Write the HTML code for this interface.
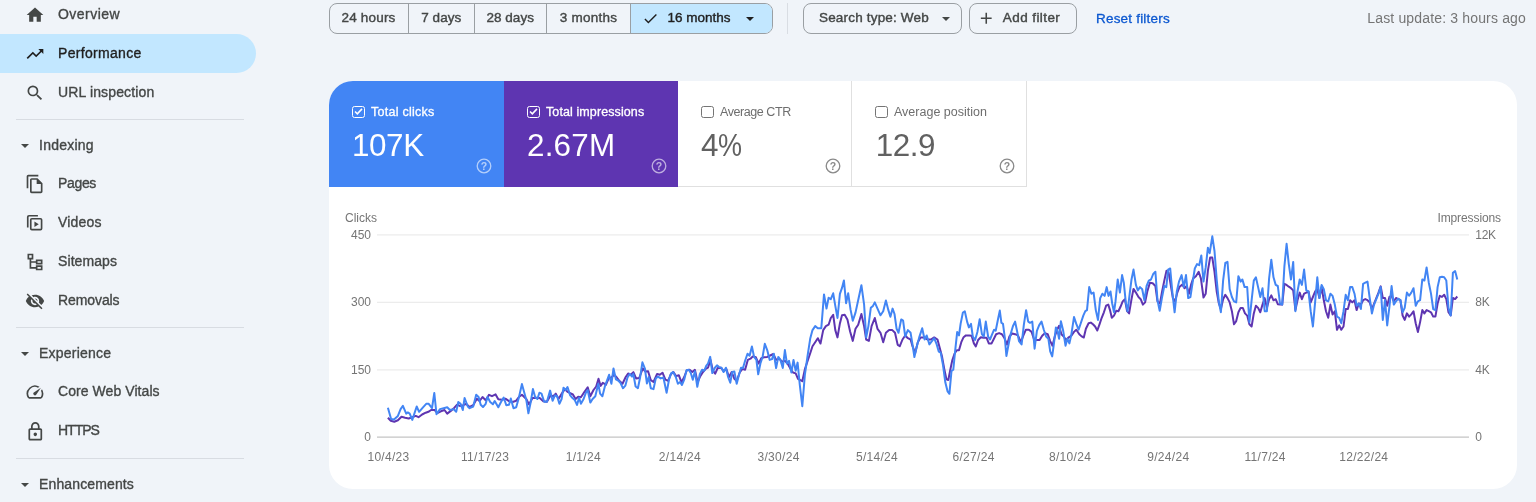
<!DOCTYPE html>
<html lang="en">
<head>
<meta charset="utf-8">
<title>Performance</title>
<style>
*{box-sizing:border-box;margin:0;padding:0}
html,body{width:1536px;height:502px;overflow:hidden;background:#f0f4f9;font-family:"Liberation Sans",sans-serif;color:#1f1f1f}
body{position:relative}
.abs{position:absolute}
/* sidebar */
.nav{position:absolute;left:0;top:0;width:270px;height:502px}
.item{position:absolute;left:0;width:256px;height:39px;border-radius:0 20px 20px 0;font-size:14px;color:#444746;-webkit-text-stroke:.35px #444746}
.item.sel{background:#c2e7ff;color:#1f1f1f;-webkit-text-stroke:.35px #1f1f1f}
.item .ic{position:absolute;left:25px;top:10px;width:20px;height:20px}
.item .tx{position:absolute;left:58px;top:0;line-height:39px;white-space:nowrap}
.sec{position:absolute;left:0;width:256px;height:39px;font-size:14px;color:#444746;-webkit-text-stroke:.35px #444746}
.sec .tx{position:absolute;left:39px;top:0;line-height:39px}
.sec .car{position:absolute;left:21px;top:18px;width:0;height:0;border-left:4px solid transparent;border-right:4px solid transparent;border-top:4.5px solid #444746}
.div{position:absolute;left:15.500px;width:228px;height:1.300px;background:#d8dce2}
/* toolbar */
.seg{position:absolute;top:3px;height:30.5px;border:1px solid #9a9fa3;border-radius:8px;font-size:13.5px;color:#444746;-webkit-text-stroke:.4px #444746;overflow:hidden}
.seg .c{position:absolute;top:0;height:100%;border-right:1px solid #9a9fa3;line-height:28px;text-align:center;white-space:nowrap}
.btn{position:absolute;top:3px;height:30.5px;border:1px solid #9a9fa3;border-radius:8px;font-size:13.5px;color:#444746;-webkit-text-stroke:.4px #444746;line-height:28px;white-space:nowrap}
/* card */
.card{position:absolute;left:329px;top:80.500px;width:1187.500px;height:408.500px;background:#fff;border-radius:24px;overflow:hidden}
.tile{position:absolute;top:0;height:106.5px}
.tile .cb{position:absolute;left:23.3px;top:25.2px;width:12.8px;height:12.6px;border:1.5px solid #757575;border-radius:2.5px}
.tile .cb svg{position:absolute;left:-1.5px;top:-1.5px;width:12.8px;height:12.6px}
.tile .lb{position:absolute;left:42px;top:23.500px;font-size:12.500px;line-height:17px;white-space:nowrap;color:#6e6e6e}
.tile .num{position:absolute;left:23px;top:47px;font-size:31.400px;line-height:36px;white-space:nowrap;color:#616161;letter-spacing:-.4px}
.tile .hp{position:absolute;left:146.600px;top:77.600px;width:16px;height:16px;overflow:visible}
.tile.on .lb,.tile.on .num{color:#fff}
.tile.on .lb{-webkit-text-stroke:.3px #fff}
.tile.on .cb{border-color:#fff}
.tile.off{border-right:1px solid #e0e0e0;border-bottom:1px solid #e0e0e0}
svg text{font-family:"Liberation Sans",sans-serif}
</style>
</head>
<body>
<div class="nav">
  <div class="item" style="top:-5px"><svg class="ic" viewBox="0 0 24 24"><path fill="#444746" d="M10 20v-6h4v6h5v-8h3L12 3 2 12h3v8z"/></svg><span class="tx" style="letter-spacing:0.46px">Overview</span></div>
  <div class="item sel" style="top:34px"><svg class="ic" viewBox="0 0 24 24"><path fill="#1f1f1f" d="M16 6l2.29 2.29-4.88 4.88-4-4L2 16.59 3.410 18l6-6 4 4 6.300-6.290L22 12V6z"/></svg><span class="tx" style="letter-spacing:0.31px">Performance</span></div>
  <div class="item" style="top:73px"><svg class="ic" viewBox="0 0 24 24"><path fill="#444746" d="M15.500 14h-.790l-.280-.270A6.471 6.471 0 0 0 16 9.500 6.500 6.500 0 1 0 9.500 16c1.610 0 3.090-.590 4.230-1.570l.270.280v.790l5 4.990L20.490 19l-4.990-5zm-6 0C7.010 14 5 11.990 5 9.500S7.010 5 9.500 5 14 7.010 14 9.500 11.990 14 9.500 14z"/></svg><span class="tx" style="letter-spacing:0.14px">URL inspection</span></div>
  <div class="div" style="top:118.500px"></div>
  <div class="sec" style="top:126px"><i class="car"></i><span class="tx" style="letter-spacing:0.24px">Indexing</span></div>
  <div class="item" style="top:164px"><svg class="ic" viewBox="0 0 24 24"><path fill="#444746" d="M16 1H4c-1.100 0-2 .900-2 2v14h2V3h12V1zm-1 4H8c-1.100 0-1.990.900-1.990 2L6 21c0 1.100.890 2 1.990 2H19c1.100 0 2-.900 2-2V11l-6-6zM8 21V7h6v5h5v9H8z"/></svg><span class="tx" style="letter-spacing:-0.34px">Pages</span></div>
  <div class="item" style="top:203px"><svg class="ic" viewBox="0 0 24 24"><path fill="none" stroke="#444746" stroke-width="2" d="M3.300 17.500V4.800a1.500 1.500 0 0 1 1.500-1.500H15.500"/><rect x="6.900" y="6.900" width="13" height="13" rx="1.300" fill="none" stroke="#444746" stroke-width="2"/><path fill="#444746" d="M11.300 10.100v6.600l5.200-3.300z"/></svg><span class="tx" style="letter-spacing:0.17px">Videos</span></div>
  <div class="item" style="top:242px"><svg class="ic" viewBox="0 0 24 24"><path fill="none" stroke="#444746" stroke-width="2" d="M4 3h5v5H4zM14 10h6v4h-6zM14 17h6v4h-6zM6.500 8v11H14M6.500 12H14"/></svg><span class="tx" style="letter-spacing:0.09px">Sitemaps</span></div>
  <div class="item" style="top:281px"><svg class="ic" viewBox="0 0 24 24"><path fill="#444746" d="M12 7c2.760 0 5 2.240 5 5 0 .650-.130 1.260-.360 1.830l2.920 2.920c1.510-1.260 2.700-2.890 3.430-4.750-1.730-4.390-6-7.500-11-7.500-1.400 0-2.740.250-3.980.700l2.160 2.160C10.740 7.130 11.350 7 12 7zM2 4.270l2.280 2.280.460.460C3.080 8.300 1.780 10.020 1 12c1.730 4.390 6 7.500 11 7.500 1.550 0 3.030-.300 4.380-.840l.420.420L19.730 22 21 20.730 3.270 3 2 4.270zM7.530 9.800l1.550 1.550c-.050.210-.080.430-.080.650 0 1.660 1.340 3 3 3 .220 0 .440-.030.650-.080l1.550 1.550c-.670.330-1.410.530-2.200.530-2.760 0-5-2.240-5-5 0-.790.200-1.530.530-2.200zm4.310-.780l3.150 3.150.020-.160c0-1.660-1.340-3-3-3l-.170.010z"/></svg><span class="tx" style="letter-spacing:-0.09px">Removals</span></div>
  <div class="div" style="top:326.500px"></div>
  <div class="sec" style="top:334px"><i class="car"></i><span class="tx" style="letter-spacing:0.22px">Experience</span></div>
  <div class="item" style="top:372px"><svg class="ic" viewBox="0 0 24 24"><path fill="#444746" d="M20.380 8.570l-1.230 1.850a8 8 0 0 1-.220 7.580H5.070A8 8 0 0 1 15.580 6.850l1.850-1.230A10 10 0 0 0 3.350 19a2 2 0 0 0 1.720 1h13.850a2 2 0 0 0 1.740-1 10 10 0 0 0-.270-10.440zm-9.790 6.840a2 2 0 0 0 2.830 0l5.660-8.490-8.490 5.660a2 2 0 0 0 0 2.830z"/></svg><span class="tx" style="letter-spacing:0.07px">Core Web Vitals</span></div>
  <div class="item" style="top:411px"><svg class="ic" style="top:9.600px;height:21.400px;left:24.800px;width:20.600px" preserveAspectRatio="none" viewBox="0 0 24 24"><path fill="#444746" d="M18 8h-1V6c0-2.760-2.240-5-5-5S7 3.240 7 6v2H6c-1.100 0-2 .900-2 2v10c0 1.100.900 2 2 2h12c1.100 0 2-.900 2-2V10c0-1.100-.900-2-2-2zM9 6c0-1.660 1.340-3 3-3s3 1.340 3 3v2H9V6zm9 14H6V10h12v10zm-6-3c1.100 0 2-.900 2-2s-.900-2-2-2-2 .900-2 2 .900 2 2 2z"/></svg><span class="tx" style="letter-spacing:-1.0px">HTTPS</span></div>
  <div class="div" style="top:457.500px"></div>
  <div class="sec" style="top:465px"><i class="car"></i><span class="tx" style="letter-spacing:0.13px">Enhancements</span></div>
</div>

<!-- toolbar -->
<div class="seg" style="left:329px;width:444px">
  <div class="c" style="left:-1px;width:80px"><span class="t" style="letter-spacing:.2px">24 hours</span></div>
  <div class="c" style="left:79px;width:65.500px"><span class="t">7 days</span></div>
  <div class="c" style="left:144.500px;width:72.500px"><span class="t">28 days</span></div>
  <div class="c" style="left:217px;width:84px"><span class="t" style="letter-spacing:.22px">3 months</span></div>
  <div class="c" style="left:301px;width:143px;border-right:0;background:#c2e7ff;color:#1f1f1f;-webkit-text-stroke-color:#1f1f1f;text-align:left">
    <svg style="position:absolute;left:10.900px;top:5.500px;width:17px;height:17px" viewBox="0 0 24 24"><path fill="#1f1f1f" d="M9 16.170L4.830 12l-1.420 1.410L9 19 21 7l-1.410-1.410z"/></svg>
    <span class="t" style="position:absolute;left:36.500px;top:0">16 months</span>
    <i style="position:absolute;left:115px;top:12.500px;border-left:4px solid transparent;border-right:4px solid transparent;border-top:4.500px solid #1f1f1f"></i>
  </div>
</div>
<div class="abs" style="left:787px;top:3px;width:1px;height:30.500px;background:#d9dde3"></div>
<div class="btn" style="left:802.800px;width:158.800px"><span class="t" style="position:absolute;left:15.200px;top:0;letter-spacing:.18px">Search type: Web</span><i style="position:absolute;left:138.200px;top:12.500px;border-left:4px solid transparent;border-right:4px solid transparent;border-top:4.500px solid #444746"></i></div>
<div class="btn" style="left:968.900px;width:108px"><svg style="position:absolute;left:7.600px;top:5px;width:18.500px;height:18.500px" viewBox="0 0 24 24"><path fill="#444746" d="M19 13h-6v6h-2v-6H5v-2h6V5h2v6h6v2z"/></svg><span class="t" style="position:absolute;left:32.900px;top:0;letter-spacing:.42px">Add filter</span></div>
<div class="abs t" style="left:1096px;top:4px;line-height:30px;font-size:13.5px;color:#0b57d0;-webkit-text-stroke:.3px #0b57d0;letter-spacing:.2px;white-space:nowrap">Reset filters</div>
<div class="abs t" style="right:10px;top:4px;line-height:29px;font-size:14px;color:#757575;letter-spacing:.16px;white-space:nowrap">Last update: 3 hours ago</div>

<!-- card -->
<div class="card">
  <div class="tile on" style="left:0;width:175px;background:#4285f4">
    <i class="cb"><svg viewBox="0 0 13 13"><path d="M3 6.700l2.400 2.400L10.200 4" fill="none" stroke="#fff" stroke-width="1.600"/></svg></i><span class="lb" style="letter-spacing:.25px">Total clicks</span><span class="num">107K</span><svg class="hp" viewBox="0 0 16 16" opacity=".6"><circle cx="8" cy="8" r="6.800" fill="none" stroke="#fff" stroke-width="1.300"/><text x="8" y="11.600" text-anchor="middle" font-size="10.500" font-weight="bold" fill="#fff">?</text></svg>
  </div>
  <div class="tile on" style="left:175px;width:174px;background:#5e35b1">
    <i class="cb"><svg viewBox="0 0 13 13"><path d="M3 6.700l2.400 2.400L10.200 4" fill="none" stroke="#fff" stroke-width="1.600"/></svg></i><span class="lb" style="letter-spacing:.1px">Total impressions</span><span class="num" style="letter-spacing:.2px">2.67M</span><svg class="hp" viewBox="0 0 16 16" opacity=".6"><circle cx="8" cy="8" r="6.800" fill="none" stroke="#fff" stroke-width="1.300"/><text x="8" y="11.600" text-anchor="middle" font-size="10.500" font-weight="bold" fill="#fff">?</text></svg>
  </div>
  <div class="tile off" style="left:349px;width:174px">
    <i class="cb"></i><span class="lb" style="letter-spacing:-.43px">Average CTR</span><span class="num">4<span style="display:inline-block;transform:scaleX(.86);transform-origin:0 50%">%</span></span><svg class="hp" viewBox="0 0 16 16" opacity="1"><circle cx="8" cy="8" r="6.800" fill="none" stroke="#8a8a8a" stroke-width="1.300"/><text x="8" y="11.600" text-anchor="middle" font-size="10.500" font-weight="bold" fill="#8a8a8a">?</text></svg>
  </div>
  <div class="tile off" style="left:523px;width:175px">
    <i class="cb"></i><span class="lb">Average position</span><span class="num" style="left:23.700px">12.9</span><svg class="hp" viewBox="0 0 16 16" opacity="1"><circle cx="8" cy="8" r="6.800" fill="none" stroke="#8a8a8a" stroke-width="1.300"/><text x="8" y="11.600" text-anchor="middle" font-size="10.500" font-weight="bold" fill="#8a8a8a">?</text></svg>
  </div>
  <svg class="abs" style="left:0;top:-.5px" width="1188" height="410" viewBox="329 80 1188 410">
    <g id="grid" stroke="#ececec" stroke-width="1.200">
      <line x1="377" y1="234.900" x2="1469" y2="234.900"/>
      <line x1="377" y1="302.300" x2="1469" y2="302.300"/>
      <line x1="377" y1="369.800" x2="1469" y2="369.800"/>
      <line x1="377" y1="437.200" x2="1469" y2="437.200" stroke="#c4c4c4"/>
    </g>
    <g font-size="12" fill="#757575">
      <text x="345" y="222">Clicks</text>
      <text x="1501" y="222" text-anchor="end" letter-spacing="-.1">Impressions</text>
      <g text-anchor="end">
        <text x="371" y="238.800">450</text>
        <text x="371" y="306.200">300</text>
        <text x="371" y="373.700">150</text>
        <text x="371" y="441.100">0</text>
      </g>
      <g letter-spacing="-.3">
      <text x="1475.300" y="238.800">12K</text>
      <text x="1475.300" y="306.200">8K</text>
      <text x="1475.300" y="373.700">4K</text>
      <text x="1475.300" y="441.100">0</text>
      </g>
      <g text-anchor="middle" letter-spacing=".3">
        <text x="388.5" y="461">10/4/23</text>
        <text x="485.1" y="461">11/17/23</text>
        <text x="583.3" y="461">1/1/24</text>
        <text x="679.9" y="461">2/14/24</text>
        <text x="778.6" y="461">3/30/24</text>
        <text x="877.0" y="461">5/14/24</text>
        <text x="973.6" y="461">6/27/24</text>
        <text x="1070.1" y="461">8/10/24</text>
        <text x="1168.3" y="461">9/24/24</text>
        <text x="1265.1" y="461">11/7/24</text>
        <text x="1363.8" y="461">12/22/24</text>
      </g>
    </g>
    <polyline id="imp" fill="none" stroke="#5e35b1" stroke-width="2" stroke-linejoin="round" points="387.9,417.7 390.8,420.8 394.3,421.7 397.9,420.3 401.5,416.7 405.1,417.7 408.7,418.5 412.3,417.2 415.8,415.9 418.5,417.2 422.1,414.5 425.7,412.7 428.4,411.8 431.1,410 434.7,410 437.3,413.1 440.9,411.3 444.5,410 447.2,413.6 450.8,410.9 454.4,407.7 457.1,404.7 459.7,405.9 463.3,405.2 466,403.8 469.6,407 473.2,405.2 476.8,398.7 479.5,401.1 482.5,397 485.7,400.2 489,394.8 492,396.2 495.6,394.4 498.3,399.3 501.9,399.8 505.4,398.7 509,401.1 512.6,402 516.2,400.7 518.9,397 521.9,394.8 526.3,399 529,404.4 532.5,398.1 536.1,397.7 539.7,398.1 543.3,401.3 546.9,401.7 550.5,395.4 553.2,396.3 555.8,393.6 558.5,399 562.1,393.1 564.8,389.1 567.5,391.8 570.2,393.1 572.9,394.5 575.6,399 578.2,396.7 580.9,397.2 584.5,391.8 587.7,387.3 590.3,396.3 593.5,390 596.2,386.5 598.5,378.7 600.6,385.9 602.8,382.9 606,384.7 608.7,378.4 611.4,377.5 614.1,374.8 616.8,377.5 619.5,381.1 622.5,383.8 625.7,377 628.1,373.5 630.8,374.8 633.4,372.1 636.1,378.4 639.2,378 642.8,368.5 645.4,371.6 648.1,371.2 650.8,380.2 653.5,382 657.1,373.9 659.8,374.8 662.5,372.7 665.4,379.7 668.1,380.9 670.8,374.3 673.4,372 676.1,376.1 678.8,375.2 681.5,382.3 684.2,377 686.9,370.2 689.6,369.8 692.3,372 694.9,369.8 697.6,382.3 700.3,376.1 703,372 705.7,368.9 708,367.7 710.5,359.9 712.9,370.7 715.2,373.7 717.7,368 720.9,367.7 723.6,371.2 726.3,368.9 729,377 731.7,372 734.4,378.8 736.7,380.9 739.7,372.5 742.4,368.9 745.1,369.8 747.8,359.9 750.5,358.7 752.8,356.4 755.9,357.3 758.6,363.5 761.3,358.2 763.9,357.3 767.2,356.9 770.2,355.5 773.3,354 776.1,359.9 779.2,358.7 781.9,361.7 784.9,360.8 787.6,363.5 790.5,368.9 793,372.5 795.7,373.4 798,378.8 802.3,381.2 804.9,369.1 807.6,361 810.3,353 812.5,346.2 815.2,342.2 817.8,338.2 820.5,343.5 823.2,330.1 825.9,326.1 828.6,324.7 830.8,318 833.2,314.8 835.3,330.1 837.5,337.4 839.9,323.4 842,315.3 844.7,314.8 847.4,319.4 850.1,331.5 852.8,340.9 855.5,328.8 858.2,324.7 861.4,314 864.1,326.1 866.2,339.5 868.9,340.9 871.6,326.1 874.8,318 877.5,328.8 880.5,332.8 883.2,342.2 885.9,332.8 889.1,330.1 892.3,330.1 895,332.8 897.7,344.9 899.8,346.2 902.5,339.5 905.2,335.5 907.9,338.2 910.6,339.5 912.5,346.2 915.2,353 917.8,342.2 920.5,337.4 924,337.4 927.3,339.5 930.8,339.5 934.2,337.4 937.5,339.5 941.9,356 944.2,368.6 946.4,379.3 948.3,380 950.3,369.7 952.2,360.6 954.5,353.7 956.8,350.3 959,350.3 961.3,342.2 963.6,337.2 965.9,335.4 969.3,335.4 971.6,335.8 973.9,343.4 975.8,346.4 978.1,340 980.8,337.2 983.5,337.7 986.5,337.7 988.8,343.4 991.6,343.4 993.9,338.8 996.1,334.2 999.1,333.1 1001.9,334.2 1004.2,337.7 1007.1,344.5 1009.4,336.5 1012.2,333.5 1015.1,334.2 1017.9,335.4 1020.9,342.2 1023.2,335.8 1025.9,329.7 1028.9,329.7 1031.6,331.9 1034.2,340 1036.9,340 1039.6,340 1042.2,335.8 1044.9,333.1 1047.7,334.2 1050.2,341.1 1052.5,345.7 1054.8,336.5 1057.1,329.7 1059.1,325.8 1061.4,334.2 1063.7,336.5 1066,340 1068.3,337.7 1071.2,335.8 1074,331.9 1076.3,329.7 1079.3,334.2 1081.6,336.4 1083.8,337.5 1085.9,328.7 1088.6,323.2 1090.8,322.6 1093,324.3 1095.1,326.5 1097.3,330.5 1099.5,324.3 1101.7,317.8 1103.9,312.3 1106.1,305.7 1108.3,304.6 1110,310.1 1111.8,317.8 1114,315.6 1116.2,310.8 1118.4,311.2 1120.5,306.8 1122.7,301.4 1124.9,299.2 1127.1,311.2 1129.1,313.4 1131.3,300.3 1133.5,288.9 1135.9,292.6 1138.5,297 1140.7,299.2 1142.9,304.6 1145.1,302.4 1147.3,291.5 1149.9,282.7 1152.7,283.2 1155.4,286 1157.5,301.4 1160,303.5 1162.1,291.5 1164.3,280.6 1166.5,270.7 1168.7,272.9 1170.7,284.9 1172.9,298.1 1175.1,301.4 1177.3,292.6 1179.4,287.1 1182.3,284.5 1184.5,288.2 1186.7,286 1188.9,293.7 1191,284.9 1193.2,278.4 1195.9,276.2 1198.7,271.8 1200.9,278.4 1203.5,297.6 1205.7,293.7 1207.9,270.7 1210.1,257.6 1212.3,257.6 1214.5,271.8 1216.7,291.5 1218.9,303.5 1220.9,309 1223.1,299.2 1225.3,294.8 1227.5,298.1 1229.7,302.4 1231.9,311.2 1234,324.3 1236.2,321.1 1238.4,312.3 1240.6,307.9 1242.8,307.9 1245,313.4 1247.2,315.6 1249.4,324.3 1251.6,326.5 1253.8,313.4 1255.9,305.7 1258.1,307.9 1260.3,312.3 1262.5,304.6 1264.7,298.1 1266.9,307.9 1269.1,299.2 1271.3,295.4 1273.5,300.3 1275.7,299.2 1277.8,304.2 1280,304.6 1282.2,304.6 1284.4,283.8 1286.6,284.9 1288.8,286.7 1291,288.2 1293.2,290.4 1295.4,310.1 1297.5,300.3 1299.7,292.6 1301.9,299.2 1304.1,293.7 1306.3,292.6 1308.5,291.5 1310.7,302.4 1312.9,297 1315.1,291.5 1317.3,289.3 1319.4,298.1 1321.6,287.1 1323.8,300.3 1326,311.2 1328.2,317.8 1330.4,304.6 1332.6,314.5 1334.8,311.2 1337,329.8 1339.2,325.4 1341.3,329.8 1343.5,326.5 1345.7,309 1347.9,309 1350.1,300.3 1352.3,302.4 1354.5,300.3 1356.6,310.1 1358.8,303.5 1360.9,304.6 1363.1,300.2 1365.3,299.1 1367.5,300.2 1369.7,302.4 1371.9,309 1374.1,303.5 1376.3,298 1378.5,292.6 1380.7,286.4 1382.8,298 1385,298 1387.2,305.7 1389.4,296.9 1391.6,295.8 1393.8,301.3 1396,298 1398.2,299.1 1400.4,300.2 1402.6,315.5 1404.7,319.9 1406.9,313.4 1409.1,316.6 1411.3,314.4 1413.5,311.2 1415.7,323.2 1417.9,332 1420.1,322.1 1422.3,310.1 1424.4,313.4 1426.6,310.1 1428.8,311.2 1431,312.3 1433.2,316.6 1435.4,316.6 1437.6,303.5 1439.8,295.8 1442,296.9 1444.2,294.7 1446.3,299.1 1448.5,312.3 1450.7,315.5 1452.9,298 1455.1,299.1 1457.3,296.5"/>
    <polyline id="clk" fill="none" stroke="#4285f4" stroke-width="2" stroke-linejoin="round" points="387.9,407.7 391.1,419 394,419.5 397.9,415.9 400.6,409.1 402.9,405.9 406.2,413.6 407.8,412.4 409.7,413.6 412.3,419.9 416.7,406.5 419.1,411.8 423,407.3 426.2,403.8 428.7,403.8 432,408.2 434.3,393 436.5,414.2 440,409.1 443.6,408.2 447.2,407.3 449.9,410 453.5,409.1 456.2,411.8 458.3,402 460.6,403.8 462.8,410 464.6,398 467.8,406.5 469.6,408.2 473.2,406.5 476.2,394.8 478.6,397 480.7,404.7 483,407 485.7,403.8 487.5,397 490.2,402 492.9,404.3 494.7,401.1 498.3,407.3 501,402 503.7,397.5 506.3,405.2 509,404.7 510.8,398.4 513.5,408.2 516.2,407.3 518.9,397.5 521.9,384.1 526.3,399.9 528.4,413.3 530.8,401.7 532.9,389.1 535.2,397.2 537.4,399 539.4,392.7 541.5,393.6 544.2,401.7 546.9,401.7 550.1,390.6 552.6,400.8 554.9,395.4 557.1,396.3 559.4,403.8 561.6,399 563.5,387.7 565.7,390 567.5,387 570.2,395.4 572.5,398.1 574.7,399.9 577,404.9 579.1,397.7 580.9,403.8 583.6,399 585.9,392.7 587.7,390 590.3,402.6 592.6,399 595.3,396.3 598.3,383.8 600.1,393.6 602.4,396.3 605.1,385.6 607.8,378.4 609.1,374.8 611.4,383.8 613.5,368.5 615.9,379.3 618.2,380.5 620.4,382.9 623,388.2 625.4,385.6 627.5,377.5 629.7,373.9 632,376.6 633.3,373.9 635.6,386.5 637.9,388.2 640.1,377.5 642.4,362.3 644.9,368.5 646.9,383.4 648.7,377 650.8,388.2 653.5,389.1 655.8,378.4 658,376.6 660.7,378.4 663.4,377.5 666.6,392.7 669,379.7 671.1,373.4 673.1,372 675.8,377 677.9,383.8 680.1,382 681.9,385 684.2,379.7 686.5,370.2 688.7,369.8 690.8,373 692.8,379.7 694.9,371.2 697.3,386.8 699.8,374.3 702.1,369.8 704.3,370.7 706.2,365.9 708,363.5 710.2,356.9 712.3,373 714.7,368 717,365.3 719.1,367.1 721.5,367.7 723.6,372 725.9,367.7 728.1,377 730.3,382.7 732.2,372 734.4,371.6 736.7,383.8 738.9,375.2 741,367.7 743,368 745.1,360.8 747.5,353.7 749.6,355.8 751.9,346.5 754.1,356.9 756.4,359.9 758.2,374.3 760.4,363.5 762.5,357.3 764.8,343.8 767.2,350.1 769.7,359.9 772,359.1 773.8,353.7 776.1,368 778.3,356.9 780.4,359.9 782.8,368 784.9,350.1 786.9,363.5 789,360.8 791.4,372.5 793.5,359.9 795.7,370.7 797.6,362.6 799.8,385 802.3,406.2 804.9,374.5 807.6,355.6 810.3,338.2 812.5,330.1 815.2,326.1 817.8,328.2 821.3,328.2 824,294.4 826.5,308.6 828.6,297.8 830.8,299.2 833.2,293.3 835.3,305.9 837.5,318 839.9,293.8 842,287.9 843.9,280.4 846.1,303.2 848.2,293.3 850.6,309.9 852.8,320.7 855.5,312.6 858.7,297.8 861.4,285.2 864.1,304.6 866.2,337.4 868.4,326.1 870.8,307.8 873,305.9 874.8,302.4 877.5,308.6 880.5,315.3 883.2,311.3 885.9,300.5 888.3,309.9 890.4,316.7 892.6,308.6 894.5,314 896.6,328.8 898.5,332.8 901.2,319.4 903.1,320.7 905.2,336.3 907.9,330.1 910.6,332.8 912.5,344.4 914.4,357 916.5,347.6 919.2,337.4 922.2,328.2 924.6,339.5 926.7,335.5 929.4,344.4 932.1,340.9 934.2,338.2 936.7,344.4 938.8,351.6 940.7,352.6 943,365.1 945.3,382.3 947.6,391.5 949.4,393.8 951.5,370.9 953.3,369.7 955.2,350.3 957.2,331.9 959,335.4 960.6,323.9 962.9,312.5 964.8,311.3 967.1,321.6 968.9,327.4 971,323.9 972.8,336.5 975.1,340 977.4,331.9 979.7,319.3 981.9,334.2 983.8,336.5 985.8,321.6 988.1,336.5 990,339.5 992.2,334.2 994.1,329.7 995.7,330.8 998,319.3 999.8,310.6 1001.4,322.8 1003,323.9 1004.8,337.7 1006.4,356 1008.3,345.7 1010.6,334.2 1012.9,326.2 1015.1,321.6 1017,330.8 1019,341.1 1021.6,344.5 1023.8,325.1 1026.1,310.2 1028.2,321.6 1030,322.8 1032.3,321.6 1034.6,348.7 1036.9,330.8 1039.2,325.1 1041.5,321.6 1043.8,329.7 1046.1,336.5 1048.4,338.8 1050.2,351.4 1052.2,356.4 1054.1,342.2 1055.9,327.4 1057.5,330.8 1059.1,338.8 1060.9,321.2 1063.2,330.8 1065.5,345.7 1067.4,338.8 1069.4,343.4 1071.2,335.4 1074,317.1 1076.3,323.9 1078.6,329.7 1081.1,322.2 1083.3,315.6 1085.3,311.2 1087,310.1 1089.2,287.1 1091.4,293.7 1093.6,292.6 1095.8,310.1 1098,320 1100.2,298.1 1102.4,293.7 1104.6,295.9 1106.7,287.1 1108.5,295.9 1110.5,291.5 1112.2,303.5 1114,312.3 1115.5,301.4 1117.7,279.5 1119.9,292.6 1122.1,275.1 1123.8,282.7 1125.8,302.4 1127.6,311.2 1129.7,293.7 1131.5,279.5 1133.5,269.6 1135.9,284.9 1137.8,290.4 1140,287.1 1142.2,289.3 1144.4,300.3 1146.6,286 1148.8,280.6 1151,279.5 1153.2,274 1155.4,271.8 1157.5,300.3 1159.7,310.8 1161.9,298.1 1164.3,286 1166.3,287.1 1168.1,269.6 1170.2,268.5 1172.4,292.6 1174.6,312.3 1176.8,291.5 1179,281.6 1181.6,275.1 1183.8,287.1 1186,275.1 1188.2,298.1 1190.4,297 1192.6,282.7 1194.8,268.5 1197,264.1 1199.2,265.2 1201.3,255.4 1203.5,281.6 1205.7,267.4 1207.9,247.7 1209.7,253.2 1212.3,236.3 1214.5,251 1216.7,279.5 1218.9,302.4 1220.9,312.3 1223.1,280.6 1225.3,263 1227.5,261.9 1229.7,289.3 1231.9,297 1234,301.4 1236.2,302.4 1238.4,276.2 1240.6,281.6 1242.4,279.5 1244.6,287.1 1247.2,287.1 1249.4,322.2 1251.6,300.3 1253.8,280.6 1255.9,277.3 1258.1,287.1 1260.3,297 1262.5,288.2 1264.7,311.2 1266.9,311.2 1269.1,278.4 1271.3,259.7 1273.5,277.3 1275.7,284.9 1277.8,286 1280,303.5 1282.2,304.6 1284.4,266.3 1286.6,243.8 1288.8,264.1 1291,279.5 1293.2,261.9 1295.4,311.2 1297.5,291.5 1299.7,279.5 1301.9,284.9 1304.1,269.6 1306.3,290.4 1308.5,291.5 1310.7,311.2 1312.9,326.5 1315.1,302.4 1317.3,277.3 1319.4,298.1 1321.6,284.9 1323.8,289.3 1326,300.3 1328.2,301.4 1330.4,293.7 1332.6,295.9 1334.8,304.6 1337,316.7 1339.2,317.8 1341.3,323.2 1343.5,311.2 1345.7,294.8 1347.9,300.3 1350.1,287.1 1352.3,287.1 1354.5,293.7 1356.6,305.7 1358.8,303.5 1360.9,309 1363.1,283.8 1365.3,282.7 1367.5,281.6 1369.7,298 1371.9,313.4 1374.1,304.6 1376.3,299.1 1378.5,293.6 1380.7,287.1 1382.8,319.9 1385,300.2 1387.2,325.4 1389.4,306.8 1391.6,286 1393.8,304.6 1396,301.3 1398.2,298.7 1400.4,300.2 1402.6,312.3 1404.7,307.9 1406.9,292.6 1409.1,295.8 1411.3,292.6 1413.5,288.2 1415.7,305.7 1417.9,301.3 1420.1,300.2 1422.3,279.4 1424.4,280.5 1426.6,267.4 1428.8,282.7 1431,293.6 1433.2,309 1435.4,310.1 1437.6,287.1 1439.8,277.2 1442,276.8 1444.2,277.2 1446.3,280.5 1448.5,307.9 1450.7,315.5 1452.9,272.8 1455.1,271.1 1457.3,279.4"/>
  </svg>
</div>
</body>
</html>
